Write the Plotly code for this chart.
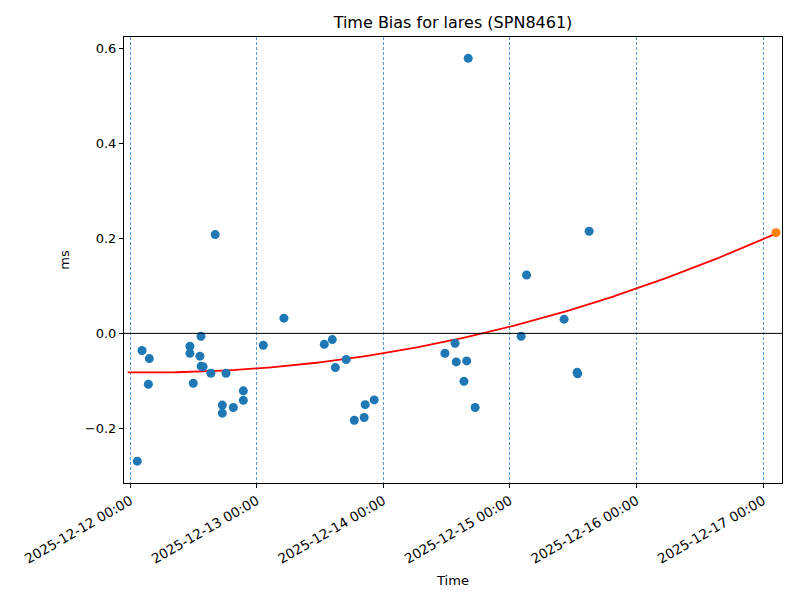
import numpy as np
import pandas as pd
import plotly.graph_objects as go

# Observations
times = [
    "2025-12-12 01:19", "2025-12-12 02:13", "2025-12-12 03:36", "2025-12-12 03:25",
    "2025-12-12 11:18", "2025-12-12 11:18", "2025-12-12 11:56", "2025-12-12 13:12",
    "2025-12-12 13:24", "2025-12-12 13:26", "2025-12-12 13:48", "2025-12-12 15:17",
    "2025-12-12 16:06", "2025-12-12 17:27", "2025-12-12 17:27", "2025-12-12 18:09",
    "2025-12-12 19:32", "2025-12-12 21:26", "2025-12-12 21:26",
    "2025-12-13 01:13", "2025-12-13 05:08", "2025-12-13 12:47", "2025-12-13 14:18",
    "2025-12-13 14:53", "2025-12-13 16:57", "2025-12-13 18:29", "2025-12-13 20:21",
    "2025-12-13 20:33", "2025-12-13 22:15",
    "2025-12-14 11:40", "2025-12-14 13:36", "2025-12-14 13:49", "2025-12-14 15:17",
    "2025-12-14 15:48", "2025-12-14 16:05", "2025-12-14 17:24",
    "2025-12-15 02:07", "2025-12-15 03:09", "2025-12-15 10:16", "2025-12-15 12:45",
    "2025-12-15 12:50", "2025-12-15 15:01",
]
bias_ms = [
    -0.269, -0.036, -0.053, -0.107,
    -0.027, -0.042, -0.105, -0.048,
    -0.006, -0.069, -0.070, -0.084,
    0.208, -0.151, -0.168, -0.084,
    -0.156, -0.121, -0.141,
    -0.025, 0.032, -0.023, -0.013,
    -0.072, -0.055, -0.183, -0.177,
    -0.150, -0.140,
    -0.042, -0.021, -0.060, -0.101,
    -0.058, 0.579, -0.156,
    -0.006, 0.123, 0.030, -0.082,
    -0.085, 0.215,
]

# Prediction point
pred_time = ["2025-12-17 02:28"]
pred_ms = [0.212]

# Quadratic fit (coefficients in days since base, highest power first)
fit_base = "2025-12-12 00:00"
fit_coeffs = [0.01202, -0.00403, -0.082]
fit_start = "2025-12-11 23:30"

x_ticks = ["2025-12-12", "2025-12-13", "2025-12-14", "2025-12-15", "2025-12-16", "2025-12-17"]
x_tick_text = ["2025-12-12 00:00", "2025-12-13 00:00", "2025-12-14 00:00",
               "2025-12-15 00:00", "2025-12-16 00:00", "2025-12-17 00:00"]

base = pd.Timestamp(fit_base)
fit_t = pd.date_range(fit_start, pred_time[0], periods=200)
fit_d = (fit_t - base) / pd.Timedelta(days=1)
fit_y = np.polyval(fit_coeffs, np.asarray(fit_d, dtype=float))

fig = go.Figure()
fig.add_trace(go.Scatter(x=fit_t, y=fit_y, mode="lines",
                         line=dict(color="red", width=1.8), showlegend=False))
fig.add_trace(go.Scatter(x=pd.to_datetime(times), y=bias_ms, mode="markers",
                         marker=dict(color="#1f77b4", size=9), showlegend=False))
fig.add_trace(go.Scatter(x=pd.to_datetime(pred_time), y=pred_ms, mode="markers",
                         marker=dict(color="#ff7f0e", size=9), showlegend=False))

fig.add_hline(y=0, line=dict(color="black", width=1))

font = "DejaVu Sans, sans-serif"
fig.update_layout(
    width=800, height=600,
    paper_bgcolor="white", plot_bgcolor="white",
    margin=dict(l=116, r=26, t=29, b=125),
    font=dict(family=font, size=13, color="black"),
    title=dict(text="Time Bias for lares (SPN8461)", x=445 / 800, xanchor="center",
               y=1 - 14 / 600, yanchor="middle", font=dict(size=16)),
)
fig.update_xaxes(
    range=[pd.Timestamp("2025-12-11 22:48"), pd.Timestamp("2025-12-17 03:36")],
    tickvals=pd.to_datetime(x_ticks), ticktext=x_tick_text, tickangle=-30,
    tickfont=dict(size=13.5),
    showgrid=True, gridcolor="#5b9bd5", griddash="3px,2px", gridwidth=0.7,
    showline=True, linecolor="black", linewidth=1, mirror=True,
    ticks="outside", ticklen=4, tickcolor="black",
    zeroline=False, automargin=False,
    title=dict(text="Time", font=dict(size=13), standoff=10),
)
fig.update_yaxes(
    range=[-0.315, 0.624], dtick=0.2, tick0=0, tickformat=".1f",
    showgrid=False, zeroline=False, automargin=False,
    showline=True, linecolor="black", linewidth=1, mirror=True,
    ticks="outside", ticklen=4, tickcolor="black",
    title=dict(text="ms", font=dict(size=13), standoff=12),
)

fig.write_html("out.html")
